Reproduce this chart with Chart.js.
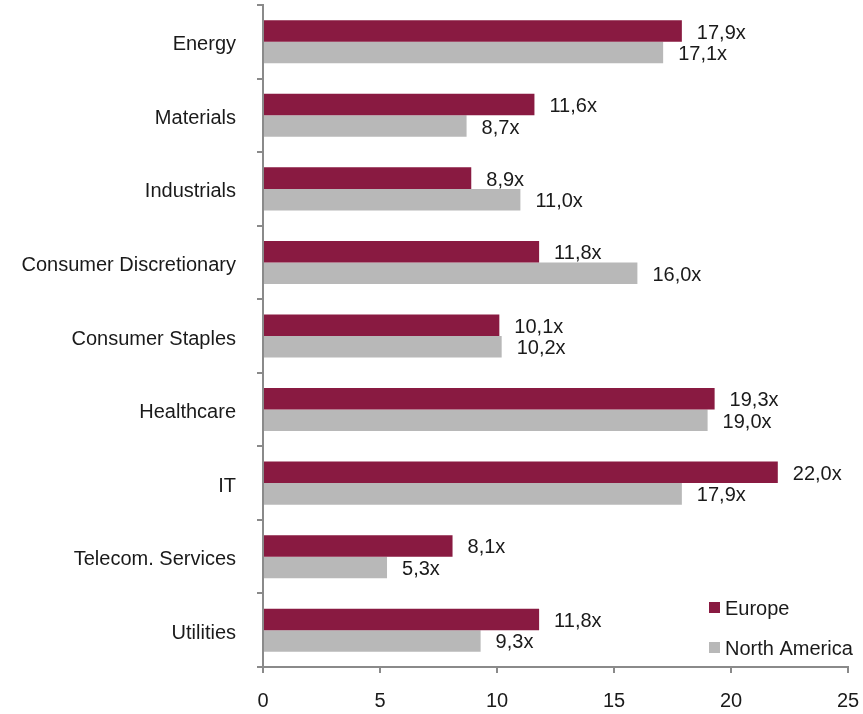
<!DOCTYPE html>
<html>
<head>
<meta charset="utf-8">
<script src="https://cdn.jsdelivr.net/npm/chart.js@4/dist/chart.umd.min.js"></script>
<style>
  html, body { margin: 0; padding: 0; background: #fff; }
  #wrap { width: 863px; height: 714px; position: relative; }
</style>
</head>
<body>
<div id="wrap"><canvas id="chart"></canvas></div>
<script>
// Sector labels and multiples
const sectors = ['Energy', 'Materials', 'Industrials', 'Consumer Discretionary', 'Consumer Staples', 'Healthcare', 'IT', 'Telecom. Services', 'Utilities']
const europe = [17.9, 11.6, 8.9, 11.8, 10.1, 19.3, 22.0, 8.1, 11.8]
const northAmerica = [17.1, 8.7, 11.0, 16.0, 10.2, 19.0, 17.9, 5.3, 9.3]
const xTicks = [0, 5, 10, 15, 20, 25]

const FONT = "'Liberation Sans', Arial, sans-serif"
const TEXT = '#1a1a1a'
const AXIS = '#8a8a8a'

// value labels "17,9x" next to each bar
const valueLabels = {
  id: 'valueLabels',
  afterDatasetsDraw(chart) {
    const ctx = chart.ctx
    ctx.save()
    ctx.font = '20px ' + FONT
    ctx.fillStyle = TEXT
    ctx.textAlign = 'left'
    ctx.textBaseline = 'middle'
    chart.data.datasets.forEach((ds, i) => {
      chart.getDatasetMeta(i).data.forEach((bar, j) => {
        const txt = ds.data[j].toFixed(1).replace('.', ',') + 'x'
        ctx.fillText(txt, bar.x + 15, bar.y + 2)
      })
    })
    ctx.restore()
  }
}

// legend sits inside the plot, bottom right
const cornerLegend = {
  id: 'cornerLegend',
  afterDraw(chart) {
    const ctx = chart.ctx
    ctx.save()
    ctx.font = '20px ' + FONT
    ctx.textBaseline = 'middle'
    chart.data.datasets.forEach((ds, i) => {
      const y = 608 + i * 40
      ctx.fillStyle = ds.backgroundColor
      ctx.fillRect(709, y - 6, 11, 11)
      ctx.fillStyle = TEXT
      ctx.fillText(ds.label, 725, y + 1)
    })
    ctx.restore()
  }
}

new Chart(document.getElementById('chart'), {
  type: 'bar',
  data: {
    labels: sectors,
    datasets: [
      { label: 'Europe', data: europe, backgroundColor: '#891a41' },
      { label: 'North America', data: northAmerica, backgroundColor: '#b8b8b8' }
    ]
  },
  options: {
    indexAxis: 'y',
    responsive: true,
    maintainAspectRatio: false,
    animation: false,
    categoryPercentage: 0.585,
    barPercentage: 1.0,
    layout: { padding: { top: 5, right: 15, left: 0, bottom: 0 } },
    plugins: {
      legend: { display: false },
      tooltip: { enabled: false }
    },
    scales: {
      x: {
        min: 0,
        max: 25,
        afterBuildTicks(scale) {
          scale.ticks = xTicks.map(v => ({ value: v }))
        },
        afterFit(scale) {
          scale.height = 47
          scale.paddingLeft = 0
          scale.paddingRight = 0
        },
        grid: { drawOnChartArea: false, drawTicks: true, tickLength: 6, color: AXIS, lineWidth: 2 },
        border: { color: AXIS, width: 2 },
        ticks: { font: { family: FONT, size: 20 }, color: TEXT, padding: 16, maxRotation: 0 }
      },
      y: {
        afterFit(scale) {
          scale.width = 263
          scale.paddingTop = 0
          scale.paddingBottom = 0
        },
        grid: { offset: true, drawOnChartArea: false, drawTicks: true, tickLength: 6, color: AXIS, lineWidth: 2 },
        border: { color: AXIS, width: 2 },
        ticks: { font: { family: FONT, size: 20 }, color: TEXT, padding: 21, labelOffset: 3 }
      }
    }
  },
  plugins: [valueLabels, cornerLegend]
})
</script>
</body>
</html>
